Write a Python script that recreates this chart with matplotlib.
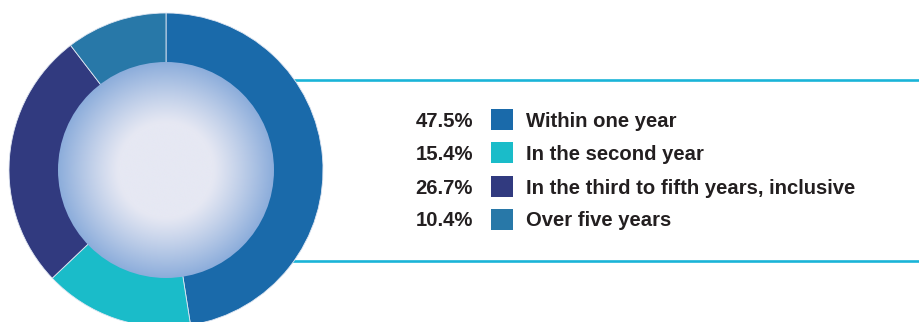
import numpy as np
import matplotlib
matplotlib.use('Agg')
import matplotlib.pyplot as plt
from matplotlib.patches import Circle, Rectangle

labels = ['Within one year', 'In the second year',
          'In the third to fifth years, inclusive', 'Over five years']
shares = [47.5, 15.4, 26.7, 10.4]
colors = ['#1a6aaa', '#1abcc9', '#313a7f', '#2878a8']

W, H = 920, 322
fig = plt.figure(figsize=(W / 100, H / 100), dpi=100)
ax = fig.add_axes([0, 0, 1, 1])

# donut geometry, pixel units with y going up
cx, cy = 166, H - 170
r_out, r_in = 157, 108

# cyan rules behind the donut
for y in (80, 261):
    ax.plot([250, W], [H - y, H - y], color='#1ab4d8', lw=1.9,
            solid_capstyle='butt', zorder=1)

ax.pie(shares, colors=colors, startangle=90, counterclock=False,
       center=(cx, cy), radius=r_out,
       wedgeprops=dict(width=r_out - r_in + 2, edgecolor='#dfe6f2',
                       linewidth=0.6, zorder=2))

# inner disc with radial gradient
n = 400
xs = np.linspace(cx - r_in, cx + r_in, n)
ys = np.linspace(cy - r_in, cy + r_in, n)
gx, gy = np.meshgrid(xs, ys)
rr = np.hypot(gx - cx, gy - cy) / r_in
t = np.clip((rr - 0.44) / 0.56, 0, 1) ** 1.1
c_mid = np.array([0xe6, 0xe8, 0xf3]) / 255
c_edge = np.array([0x8c, 0xad, 0xdb]) / 255
img = c_mid[None, None, :] * (1 - t[..., None]) + c_edge[None, None, :] * t[..., None]
im = ax.imshow(img, extent=(cx - r_in, cx + r_in, cy - r_in, cy + r_in),
               origin='lower', zorder=3, interpolation='bilinear')
clip = Circle((cx, cy), r_in, transform=ax.transData)
im.set_clip_path(clip)

# legend rows
row_y = [119, 152, 186, 219]
for lab, val, col, y in zip(labels, shares, colors, row_y):
    yy = H - y
    ax.add_patch(Rectangle((491, yy - 10.5), 22, 21, facecolor=col,
                           edgecolor='none', zorder=4))
    ax.text(473, yy - 7.5, f'{val:.1f}%', ha='right', va='baseline',
            fontsize=14.6, fontweight='bold', family='Liberation Sans',
            color='#231f20')
    ax.text(526, yy - 7.5, lab, ha='left', va='baseline',
            fontsize=14.6, fontweight='bold', family='Liberation Sans',
            color='#231f20')

ax.set_xlim(0, W)
ax.set_ylim(0, H)
ax.set_aspect('auto')
ax.axis('off')

fig.savefig('out.png', dpi=100)
